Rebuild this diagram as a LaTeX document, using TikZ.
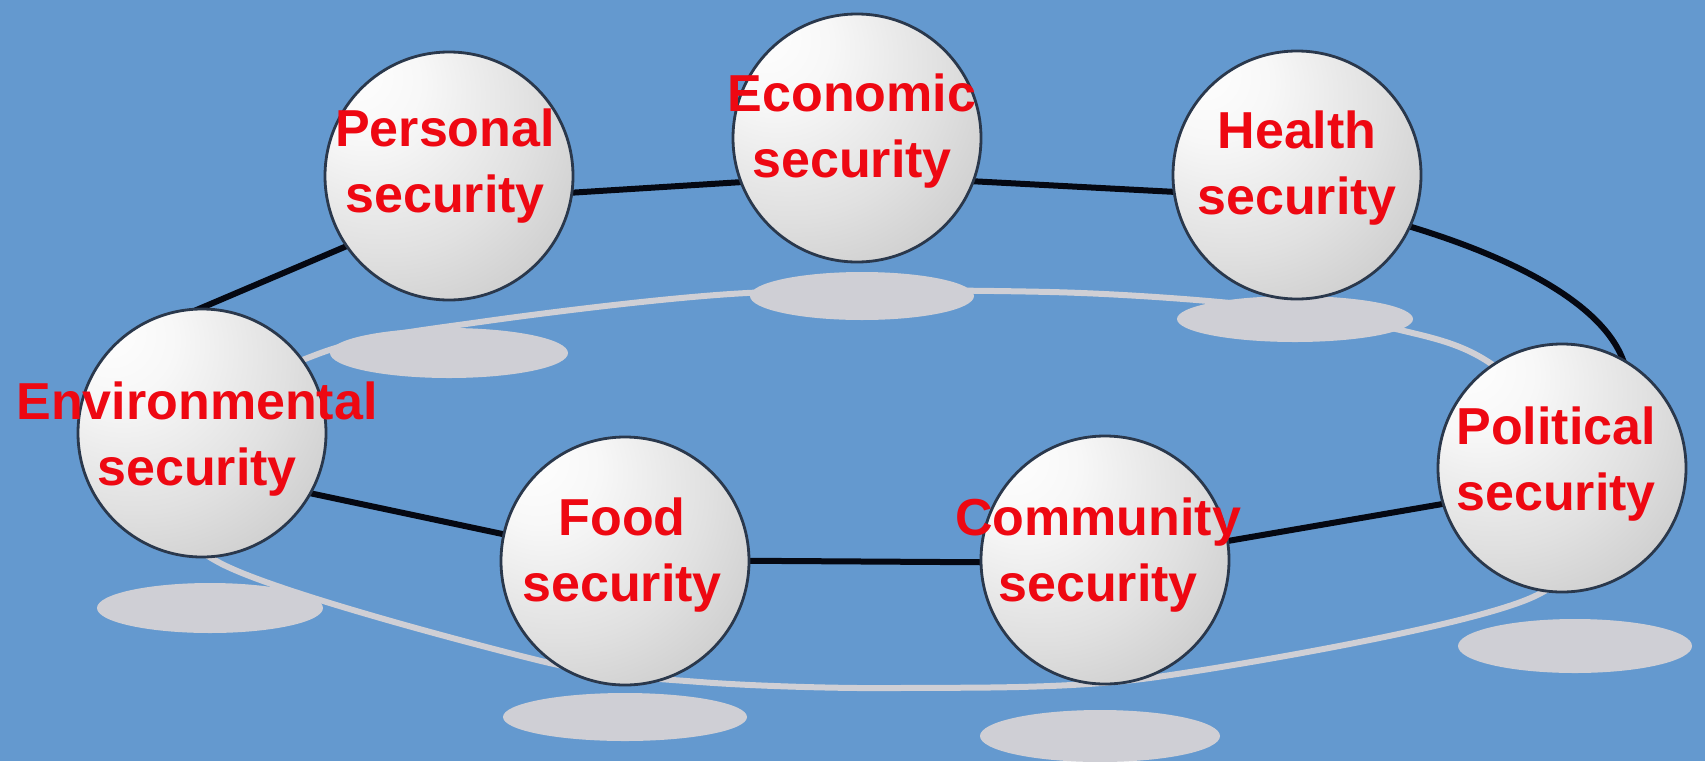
\documentclass[tikz,border=0pt]{standalone}
\usepackage{fontspec}
\newfontfamily\lblfont{Liberation Sans}
\definecolor{bgblue}{RGB}{100,153,207}
\definecolor{shadowgrey}{RGB}{207,207,213}
\definecolor{ringblack}{RGB}{5,8,18}
\definecolor{sphereedge}{RGB}{42,56,76}
\definecolor{lblred}{RGB}{238,8,18}
\pgfdeclareradialshading{spherefill}{\pgfpoint{-20bp}{22bp}}{%
  color(0bp)=(white);
  color(12bp)=(white!97!black);
  color(30bp)=(white!88!black);
  color(50bp)=(white!76!black);
  color(65bp)=(white!67!black);
  color(85bp)=(white!58!black)}
\tikzset{
  sphere/.style={circle, minimum size=248pt, inner sep=0pt, draw=sphereedge,
    line width=2.8pt, shading=spherefill},
  lbl/.style={text=lblred, align=center, inner sep=0pt,
    font={\lblfont\bfseries\fontsize{52}{66}\selectfont}},
  shadowblob/.style={fill=shadowgrey},
  shadowring/.style={draw=shadowgrey, line width=6pt},
  blackring/.style={draw=ringblack, line width=6pt, line join=round}
}
\begin{document}
\begin{tikzpicture}[x=1pt,y=-1pt]
\fill[bgblue] (0,0) rectangle (1705,761);
\useasboundingbox (0,0) rectangle (1705,761);

% sphere centres
\coordinate (cPer) at (449,176);
\coordinate (cEco) at (857,138);
\coordinate (cHea) at (1297,175);
\coordinate (cPol) at (1562,468);
\coordinate (cCom) at (1105,560);
\coordinate (cFoo) at (625,561);
\coordinate (cEnv) at (202,433);

% shadow ring waypoints
\coordinate (g1) at (318,354);
\coordinate (g2) at (480,322);
\coordinate (g3) at (747,293);
\coordinate (g4) at (1050,292);
\coordinate (g5) at (1250,305);
\coordinate (g6) at (1400,330);
\coordinate (g7) at (1490,363);
\coordinate (g8) at (1610,470);
\coordinate (g9) at (1533,597);
\coordinate (g10) at (1157,677);
\coordinate (g11) at (900,688);
\coordinate (g12) at (700,682);
\coordinate (g13) at (537,660);
\coordinate (g14) at (220,563);
\coordinate (g15) at (140,450);
\draw[shadowring] plot[smooth cycle, tension=0.5] coordinates
  {(g1) (g2) (g3) (g4) (g5) (g6) (g7) (g8) (g9) (g10) (g11) (g12) (g13) (g14) (g15)};

% shadows
\fill[shadowblob] (449,353) ellipse [x radius=119pt, y radius=25pt];
\fill[shadowblob] (862,296) ellipse [x radius=112pt, y radius=24pt];
\fill[shadowblob] (1295,319) ellipse [x radius=118pt, y radius=23pt];
\fill[shadowblob] (210,608) ellipse [x radius=113pt, y radius=25pt];
\fill[shadowblob] (625,717) ellipse [x radius=122pt, y radius=24pt];
\fill[shadowblob] (1100,736) ellipse [x radius=120pt, y radius=26pt];
\fill[shadowblob] (1575,646) ellipse [x radius=117pt, y radius=27pt];

% black ring waypoints (hidden behind the spheres)
\coordinate (kPer) at (455,200);
\coordinate (kEco) at (855,175);
\coordinate (kHea) at (1290,198);
\coordinate (kPol) at (1570,482);
\coordinate (kCom) at (1100,563);
\coordinate (kFoo) at (625,560);
\coordinate (kEnvA) at (215,473);
\coordinate (kEnvB) at (180,317);
\draw[blackring] (kPer) -- (kEco) -- (kHea)
  .. controls (1470,230) and (1750,330) .. (kPol)
  -- (kCom) -- (kFoo) -- (kEnvA)
  .. controls (158,455) and (145,335) .. (kEnvB) -- cycle;

% spheres
\node[sphere] (per) at (cPer) {};
\node[sphere] (eco) at (cEco) {};
\node[sphere] (hea) at (cHea) {};
\node[sphere] (pol) at (cPol) {};
\node[sphere] (com) at (cCom) {};
\node[sphere] (foo) at (cFoo) {};
\node[sphere] (env) at (cEnv) {};

% labels
\node[lbl] (perT) at (445,166.5) {Personal\\security};
\node[lbl] (ecoT) at (852,131.5) {Economic\\security};
\node[lbl] (heaT) at (1297,168.5) {Health\\security};
\node[lbl] (envT) at (197,439.5) {Environmental\\security};
\node[lbl] (polT) at (1556,464.5) {Political\\security};
\node[lbl] (fooT) at (622,555.5) {Food\\security};
\node[lbl] (comT) at (1098,555.5) {Community\\security};
\end{tikzpicture}
\end{document}
